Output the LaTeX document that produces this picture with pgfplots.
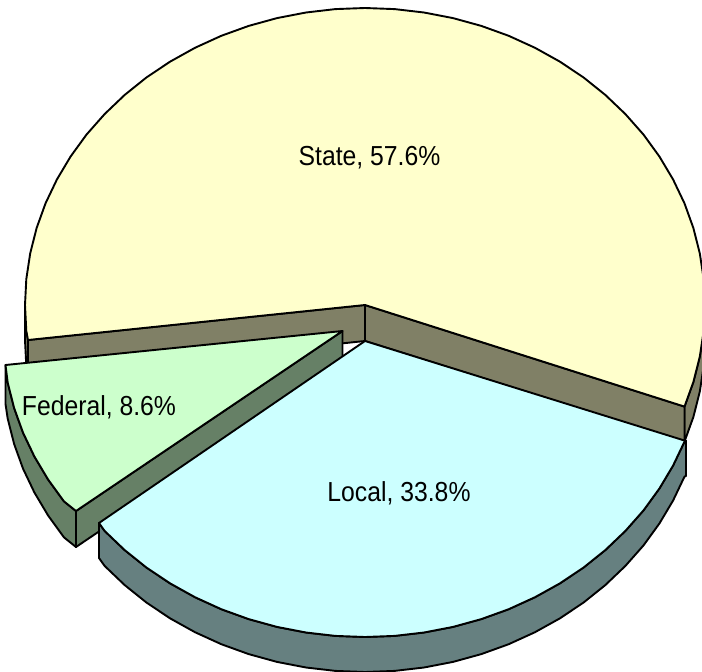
\documentclass[border=0pt]{standalone}
\usepackage{pgfplots}
\pgfplotsset{compat=1.18}
\usepackage{fontspec}
\setmainfont{Liberation Sans}
\newfontfamily\lblfont[FakeStretch=0.9]{Liberation Sans}

\definecolor{stateTop}{HTML}{FFFFCC}
\definecolor{stateSide}{HTML}{808066}
\definecolor{localTop}{HTML}{CCFFFF}
\definecolor{localSide}{HTML}{668080}
\definecolor{fedTop}{HTML}{CCFFCC}
\definecolor{fedSide}{HTML}{668066}

\begin{document}
\begin{tikzpicture}
\path[use as bounding box] (0,0) rectangle (702pt,672pt);
\begin{axis}[
  at={(0,0)}, anchor=south west,
  width=702pt, height=672pt, scale only axis,
  xmin=0, xmax=702, ymin=0, ymax=672,
  y dir=reverse,
  hide axis,
  clip=true,
  every axis plot/.append style={mark=none, draw=black, line width=1.9pt, line join=round},
]
% State: outer side, left and right
\addplot[fill=stateSide] coordinates {
  (25,305)(26.3,330.9)(28,340)(28,376)(26.3,365.9)(25,340)
} -- cycle;
\addplot[fill=stateSide] coordinates {
  (684.5,406.6)(693.4,381.9)(699.8,356.6)(703.7,330.9)(705,305)
  (705,340)(703.7,365.9)(699.8,391.6)(693.4,416.9)(684.5,441.6)
} -- cycle;
% State: cut walls
\addplot[fill=stateSide] coordinates {(365,305)(28,340)(28,376)(365,341)} -- cycle;
\addplot[fill=stateSide] coordinates {(365,305)(684.5,406.6)(684.5,441.6)(365,341)} -- cycle;
% State: top
\addplot[fill=stateTop] coordinates {
  (365,305)(684.5,406.6)(693.4,381.9)(699.8,356.6)(703.7,330.9)(705,305)
  (703.7,279.1)(699.8,253.4)(693.4,228.1)(684.5,203.4)(673.1,179.5)
  (659.4,156.5)(643.5,134.6)(625.4,114.1)(605.4,95)(583.6,77.5)
  (560,61.7)(535,47.8)(508.7,35.8)(481.3,25.9)(453,18.1)(424,12.5)
  (394.6,9.1)(365,8)(335.4,9.1)(306,12.5)(277,18.1)(248.7,25.9)
  (221.3,35.8)(195,47.8)(170,61.7)(146.4,77.5)(124.6,95)(104.6,114.1)
  (86.5,134.6)(70.6,156.5)(56.9,179.5)(45.5,203.4)(36.6,228.1)
  (30.2,253.4)(26.3,279.1)(25,305)(26.3,330.9)(28,340)
} -- cycle;
% Federal: side and top
\addplot[fill=fedSide] coordinates {(76,511)(342.5,331)(342.5,367)(76,547)} -- cycle;
\addplot[fill=fedSide] coordinates {
  (5.5,365)(7.7,382.6)(14.1,407.9)(23,432.6)(34.4,456.5)(48.1,479.5)(64,501.4)(76,511)
  (76,547)(64,537.4)(48.1,515.5)(34.4,492.5)(23,468.6)(14.1,443.9)(7.7,418.6)(5.5,404)
} -- cycle;
\addplot[fill=fedTop] coordinates {
  (342.5,331)(5.5,365)(7.7,382.6)(14.1,407.9)(23,432.6)(34.4,456.5)(48.1,479.5)(64,501.4)(76,511)
} -- cycle;
% Local: side and top
\addplot[fill=localSide] coordinates {
  (686,441)(684.5,441.6)(673.1,465.5)(659.4,488.5)(643.5,510.4)(625.4,530.9)(605.4,550)
  (583.6,567.5)(560,583.3)(535,597.2)(508.7,609.2)(481.3,619.1)(453,626.9)
  (424,632.5)(394.6,635.9)(365,637)(335.4,635.9)(306,632.5)(277,626.9)
  (248.7,619.1)(221.3,609.2)(195,597.2)(170,583.3)(146.4,567.5)(124.6,550)
  (104.6,530.9)(99,523)
  (99,558)(104.6,565.9)(124.6,585)(146.4,602.5)(170,618.3)(195,632.2)
  (221.3,644.2)(248.7,654.1)(277,661.9)(306,667.5)(335.4,670.9)(365,672)
  (394.6,670.9)(424,667.5)(453,661.9)(481.3,654.1)(508.7,644.2)(535,632.2)
  (560,618.3)(583.6,602.5)(605.4,585)(625.4,565.9)(643.5,545.4)(659.4,523.5)
  (673.1,500.5)(684.5,476.6)(686,476)
} -- cycle;
\addplot[fill=localTop] coordinates {
  (365,341)(686,441)(684.5,441.6)(673.1,465.5)(659.4,488.5)(643.5,510.4)(625.4,530.9)(605.4,550)
  (583.6,567.5)(560,583.3)(535,597.2)(508.7,609.2)(481.3,619.1)(453,626.9)
  (424,632.5)(394.6,635.9)(365,637)(335.4,635.9)(306,632.5)(277,626.9)
  (248.7,619.1)(221.3,609.2)(195,597.2)(170,583.3)(146.4,567.5)(124.6,550)
  (104.6,530.9)(99,523)
} -- cycle;
% Labels
\node[font=\fontsize{27.5}{30}\lblfont, inner sep=0pt] at (axis cs:369.5,158) {State, 57.6\%};
\node[font=\fontsize{27.5}{30}\lblfont, inner sep=0pt] at (axis cs:399,493) {Local, 33.8\%};
\node[font=\fontsize{27.5}{30}\lblfont, inner sep=0pt] at (axis cs:99,407) {Federal, 8.6\%};
\end{axis}
\end{tikzpicture}
\end{document}
